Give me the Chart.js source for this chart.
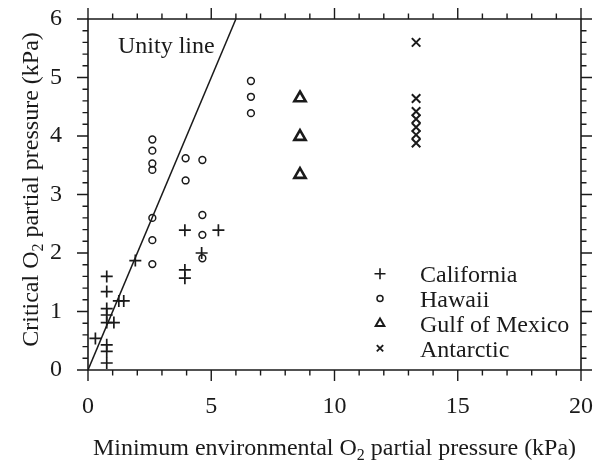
<!DOCTYPE html>
<html>
<head>
<meta charset="utf-8">
<script src="https://cdn.jsdelivr.net/npm/chart.js@4"></script>
<style>
  html, body { margin: 0; padding: 0; background: #fff; }
  canvas { display: block; }
</style>
</head>
<body>
<canvas id="c" width="603" height="460"></canvas>
<script>
// ---- data ----
const californiaX = [0.76, 0.76, 0.76, 0.76, 0.76, 1.05, 1.25, 1.45, 0.30, 0.76, 0.76, 0.76, 1.92, 3.93, 5.29, 3.93, 3.93, 4.61];
const californiaY = [1.60, 1.34, 1.05, 0.94, 0.81, 0.81, 1.18, 1.18, 0.54, 0.43, 0.32, 0.12, 1.87, 2.39, 2.39, 1.71, 1.57, 2.00];

const hawaiiX = [6.61, 6.61, 6.61, 2.61, 2.61, 2.61, 2.61, 3.96, 4.64, 3.96, 2.61, 2.61, 2.61, 4.64, 4.64, 4.64];
const hawaiiY = [4.94, 4.67, 4.39, 3.94, 3.75, 3.53, 3.42, 3.62, 3.59, 3.24, 2.60, 2.22, 1.81, 2.65, 2.31, 1.91];

const gulfX = [8.60, 8.60, 8.60];
const gulfY = [4.65, 3.99, 3.34];

const antarcticX = [13.31, 13.31, 13.31, 13.31, 13.31, 13.31, 13.31];
const antarcticY = [5.60, 4.64, 4.42, 4.29, 4.15, 4.02, 3.88];

const unityX = [0, 6];
const unityY = [0, 6];

const seriesNames = ['California', 'Hawaii', 'Gulf of Mexico', 'Antarctic'];
const unityLabel = 'Unity line';

const xTickValues = [0, 5, 10, 15, 20];
const yTickValues = [0, 1, 2, 3, 4, 5, 6];
const xTitleParts = ['Minimum environmental O', '2', ' partial pressure (kPa)'];
const yTitleParts = ['Critical O', '2', ' partial pressure (kPa)'];

const X_MIN = 0, X_MAX = 20, X_MAJOR = 5, X_MINOR = 1;
const Y_MIN = 0, Y_MAX = 6, Y_MAJOR = 1, Y_MINOR = 0.2;

// ---- build ----
const pts = (xs, ys) => xs.map((v, i) => ({ x: v, y: ys[i] }));
const INK = '#1a1a1a';
const FONT = '"Liberation Serif", "Times New Roman", serif';

const legendStyles = [
  { pointStyle: 'cross', radius: 5.5, lw: 1.6 },
  { pointStyle: 'circle', radius: 3, lw: 1.5 },
  { pointStyle: 'triangle', radius: 5, lw: 2.0 },
  { pointStyle: 'crossRot', radius: 4.5, lw: 1.8 }
];

const frame = {
  id: 'frame',
  afterDraw(chart) {
    const { ctx, chartArea, scales: { x, y } } = chart;
    const left = chartArea.left, right = chartArea.right, top = chartArea.top, bottom = chartArea.bottom;
    ctx.save();
    ctx.setLineDash([]);
    ctx.globalAlpha = 1;
    ctx.strokeStyle = INK;
    ctx.lineWidth = 1.6;
    ctx.beginPath();
    ctx.rect(left, top, right - left, bottom - top);
    ctx.stroke();
    ctx.lineWidth = 1.4;
    ctx.beginPath();
    const nx = Math.round((X_MAX - X_MIN) / X_MINOR);
    for (let i = 0; i <= nx; i++) {
      const v = X_MIN + i * X_MINOR;
      const px = x.getPixelForValue(v);
      const len = (Math.abs(v / X_MAJOR - Math.round(v / X_MAJOR)) < 1e-6) ? 11 : 5.5;
      ctx.moveTo(px, bottom); ctx.lineTo(px, bottom + len);
      ctx.moveTo(px, top); ctx.lineTo(px, top - len);
    }
    const ny = Math.round((Y_MAX - Y_MIN) / Y_MINOR);
    for (let i = 0; i <= ny; i++) {
      const v = Y_MIN + i * Y_MINOR;
      const py = y.getPixelForValue(v);
      const len = (Math.abs(v / Y_MAJOR - Math.round(v / Y_MAJOR)) < 1e-6) ? 11 : 5.5;
      ctx.moveTo(left, py); ctx.lineTo(left - len, py);
      ctx.moveTo(right, py); ctx.lineTo(right + len, py);
    }
    ctx.stroke();
    ctx.restore();
  }
};

const decor = {
  id: 'decor',
  afterDraw(chart) {
    const { ctx, chartArea: { left, right, top, bottom } } = chart;
    ctx.save();
    // unity line label
    ctx.fillStyle = INK;
    ctx.font = '24px ' + FONT;
    ctx.textBaseline = 'alphabetic';
    ctx.textAlign = 'left';
    ctx.fillText(unityLabel, 118, 53);

    // legend
    seriesNames.forEach((name, i) => {
      const st = legendStyles[i];
      const by = 282.3 + i * 24.8;
      ctx.lineWidth = st.lw;
      ctx.strokeStyle = INK;
      ctx.fillStyle = 'rgba(0,0,0,0)';
      Chart.helpers.drawPoint(ctx, { pointStyle: st.pointStyle, radius: st.radius, rotation: 0, borderWidth: st.lw }, 380, by - 8.5);
      ctx.fillStyle = INK;
      ctx.font = '24px ' + FONT;
      ctx.textAlign = 'left';
      ctx.textBaseline = 'alphabetic';
      ctx.fillText(name, 420, by);
    });

    // axis titles with subscript
    const big = '24px ' + FONT, small = '16px ' + FONT;
    const measure = (parts) => {
      ctx.font = big; const a = ctx.measureText(parts[0]).width;
      ctx.font = small; const b = ctx.measureText(parts[1]).width;
      ctx.font = big; const c = ctx.measureText(parts[2]).width;
      return [a, b, c];
    };
    const drawParts = (parts, x0, base) => {
      const [a, b] = measure(parts);
      ctx.font = big; ctx.fillText(parts[0], x0, base);
      ctx.font = small; ctx.fillText(parts[1], x0 + a, base + 5);
      ctx.font = big; ctx.fillText(parts[2], x0 + a + b, base);
    };
    ctx.textAlign = 'left';
    ctx.textBaseline = 'alphabetic';
    {
      const w = measure(xTitleParts).reduce((s, v) => s + v, 0);
      const cx = (left + right) / 2;
      drawParts(xTitleParts, cx - w / 2, 455);
    }
    {
      const w = measure(yTitleParts).reduce((s, v) => s + v, 0);
      const cy = (top + bottom) / 2 - 5;
      ctx.translate(38, cy);
      ctx.rotate(-Math.PI / 2);
      drawParts(yTitleParts, -w / 2, 0);
    }
    ctx.restore();
  }
};

const zeroPad = s => { s.paddingTop = 0; s.paddingBottom = 0; s.paddingLeft = 0; s.paddingRight = 0; };

new Chart(document.getElementById('c'), {
  type: 'scatter',
  data: {
    datasets: [
      { label: seriesNames[0], data: pts(californiaX, californiaY), pointStyle: 'cross', pointRadius: 6, borderWidth: 1.7, borderColor: INK, backgroundColor: 'rgba(0,0,0,0)' },
      { label: seriesNames[1], data: pts(hawaiiX, hawaiiY), pointStyle: 'circle', pointRadius: 3.4, borderWidth: 1.5, borderColor: INK, backgroundColor: 'rgba(0,0,0,0)' },
      { label: seriesNames[2], data: pts(gulfX, gulfY), pointStyle: 'triangle', pointRadius: 6.5, borderWidth: 2.6, borderColor: INK, backgroundColor: 'rgba(0,0,0,0)' },
      { label: seriesNames[3], data: pts(antarcticX, antarcticY), pointStyle: 'crossRot', pointRadius: 6, borderWidth: 2, borderColor: INK, backgroundColor: 'rgba(0,0,0,0)' },
      { label: unityLabel, type: 'line', data: pts(unityX, unityY), showLine: true, pointRadius: 0, borderColor: INK, borderWidth: 1.5, fill: false }
    ]
  },
  options: {
    responsive: false,
    animation: false,
    devicePixelRatio: 1,
    layout: { padding: { top: 19, right: 22, left: 0, bottom: 0 } },
    plugins: { legend: { display: false }, tooltip: { enabled: false } },
    scales: {
      x: {
        type: 'linear', min: X_MIN, max: X_MAX,
        afterBuildTicks: s => { s.ticks = xTickValues.map(v => ({ value: v })); },
        afterFit: s => { s.height = 90; zeroPad(s); },
        grid: { display: false }, border: { display: false },
        ticks: { color: INK, font: { family: FONT, size: 24 }, padding: 14, maxRotation: 0 }
      },
      y: {
        type: 'linear', min: Y_MIN, max: Y_MAX,
        afterBuildTicks: s => { s.ticks = yTickValues.map(v => ({ value: v })); },
        afterFit: s => { s.width = 88; zeroPad(s); },
        grid: { display: false }, border: { display: false },
        ticks: { color: INK, font: { family: FONT, size: 24 }, padding: 18 }
      }
    }
  },
  plugins: [frame, decor]
});
</script>
</body>
</html>
